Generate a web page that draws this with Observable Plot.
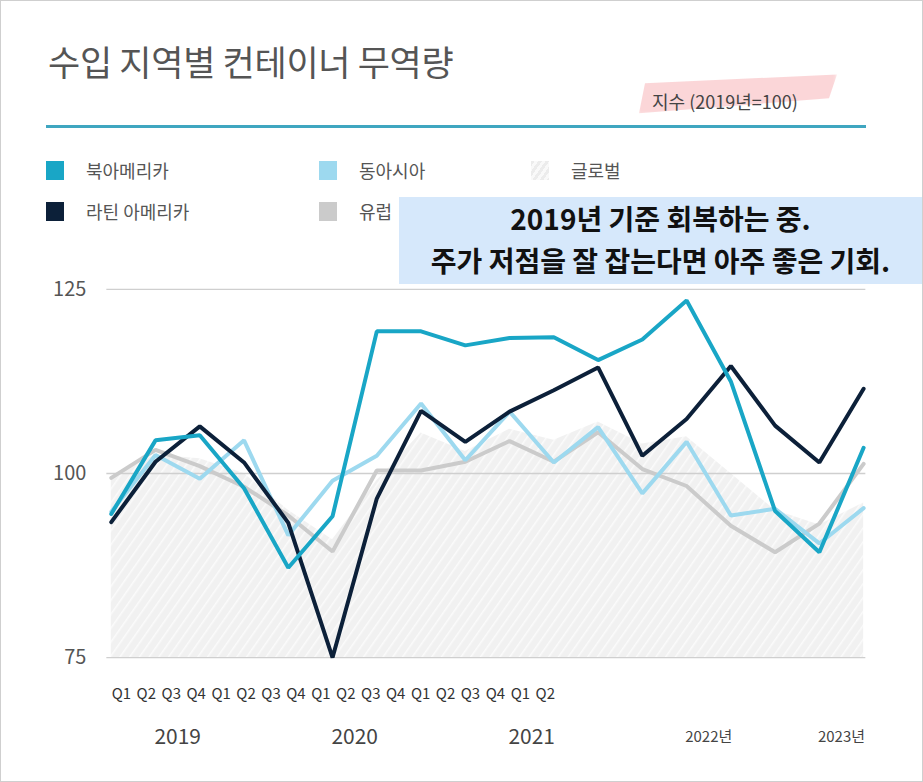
<!DOCTYPE html>
<html><head><meta charset="utf-8">
<script src="https://cdn.jsdelivr.net/npm/d3@7"></script>
<script src="https://cdn.jsdelivr.net/npm/@observablehq/plot@0.6"></script>
<style>
html,body{margin:0;padding:0;background:#fff;}
#page{position:relative;width:923px;height:782px;overflow:hidden;box-sizing:border-box;border:1px solid #cfcfcf;font-family:"Noto Sans CJK KR","Noto Sans",sans-serif;}
.abs{position:absolute;}
#title{left:47px;top:37px;font-size:35px;line-height:46px;color:#555;font-weight:400;letter-spacing:-0.3px;white-space:nowrap;}
#hl{left:636px;top:70px;width:200px;height:44px;background:rgba(250,196,200,0.7);clip-path:polygon(4% 28%,100% 8%,96% 62%,1% 96%);filter:blur(2px);}
#sub{left:651px;top:88px;font-size:18px;line-height:24px;color:#444;white-space:nowrap;}
#rule{left:45px;top:124px;width:820px;height:3px;background:#3fa6c0;}
.lg{position:absolute;font-size:18px;line-height:22px;color:#555;white-space:nowrap;}
.sw{position:absolute;width:18px;height:19px;}
#note{left:398px;top:196px;width:523px;height:87px;background:#d6e8fb;text-align:center;font-weight:700;font-size:28px;line-height:42px;color:#111;white-space:nowrap;}
#main{left:0;top:240px;}
#qaxis{left:0;top:680px;}
</style></head>
<body>
<div id="page">
  <div id="main" class="abs"></div>
  <div id="qaxis" class="abs"></div>
  <div id="title" class="abs">수입 지역별 컨테이너 무역량</div>
  <div id="hl" class="abs"></div>
  <div id="sub" class="abs">지수 (2019년=100)</div>
  <div id="rule" class="abs"></div>
  <div id="legend"></div>
  <div id="note" class="abs">2019년 기준 회복하는 중.<br>주가 저점을 잘 잡는다면 아주 좋은 기회.</div>
</div>
<script>
// ---- data ----
const years = [2019,2019,2019,2019,2020,2020,2020,2020,2021,2021,2021,2021,2022,2022,2022,2022,2023,2023];
const qLabels = ["Q1","Q2","Q3","Q4","Q1","Q2","Q3","Q4","Q1","Q2","Q3","Q4","Q1","Q2","Q3","Q4","Q1","Q2"];
const yearLabels = ["2019","2020","2021","2022년","2023년"];
const yTicks = [75,100,125];
const northAmerica = [94.5,104.5,105.2,98,87.2,94.2,119.3,119.3,117.4,118.4,118.5,115.4,118.2,123.5,112.5,94.9,89.3,103.5];
const latinAmerica = [93.4,101.6,106.4,101.5,93.3,75,96.6,108.5,104.3,108.4,111.3,114.4,102.4,107.4,114.6,106.5,101.5,111.5];
const eastAsia     = [94.8,102.5,99.3,104.5,91.6,99,102.4,109.5,101.8,108.4,101.5,106.3,97.3,104.3,94.3,95.2,90.5,95.3];
const europe       = [99.4,103.2,101,98.2,94.3,89.4,100.4,100.4,101.6,104.4,101.6,105.6,100.6,98.3,92.9,89.3,93.2,101.3];
const globalIdx    = [99.5,102.5,102,100,95,91,99,105.5,103,106,104.5,107,104,105,100,95,93,96];
const seriesNames = ["북아메리카","동아시아","글로벌","라틴 아메리카","유럽"];

// ---- styles ----
const colors = {"북아메리카":"#19a6c6","라틴 아메리카":"#0c2039","동아시아":"#9dd9ef","유럽":"#cbcbcb"};

const idx = years.map((_, i) => i);
const rows = (vals) => vals.map((v, i) => ({i, v}));
const yearPos = d3.rollups(idx, v => d3.mean(v), i => years[i]).map(([y, m], k) => ({label: yearLabels[k], m}));

const main = Plot.plot({
  width: 923, height: 542,
  marginLeft: 110, marginRight: 59, marginTop: 48, marginBottom: 125,
  style: {background: "transparent", fontFamily: "'Noto Sans CJK KR','Noto Sans',sans-serif"},
  x: {domain: [0, 17], axis: null},
  y: {domain: [75, 125], axis: null},
  marks: [
    Plot.areaY(rows(globalIdx), {x: "i", y1: 75, y2: "v", fill: "url(#hatch)", curve: "linear"}),
    Plot.ruleY(yTicks, {stroke: "#cfcfcf", strokeWidth: 1.3, x1: -0.1, x2: 17.05}),
    Plot.axisY({ticks: yTicks, label: null, tickSize: 0, tickPadding: 25, fontSize: 20, fill: "#555", tickFormat: d => String(d)}),
    Plot.lineY(rows(europe), {x: "i", y: "v", stroke: colors["유럽"], strokeWidth: 4, strokeLinejoin: "miter"}),
    Plot.lineY(rows(eastAsia), {x: "i", y: "v", stroke: colors["동아시아"], strokeWidth: 4, strokeLinejoin: "miter"}),
    Plot.lineY(rows(latinAmerica), {x: "i", y: "v", stroke: colors["라틴 아메리카"], strokeWidth: 4, strokeLinejoin: "miter"}),
    Plot.lineY(rows(northAmerica), {x: "i", y: "v", stroke: colors["북아메리카"], strokeWidth: 4, strokeLinejoin: "miter"}),
    Plot.text(yearPos, {x: "m", text: "label", frameAnchor: "bottom", dy: 80, lineAnchor: "middle",
      fontSize: d => d.label.includes("년") ? 15 : 21, fill: "#444"})
  ]
});
main.insertAdjacentHTML("afterbegin",
  `<defs><pattern id="hatch" patternUnits="userSpaceOnUse" width="8" height="8" patternTransform="rotate(35)">
     <rect width="8" height="8" fill="#f1f1f1"/><line x1="0" y1="0" x2="0" y2="8" stroke="#fbfbfb" stroke-width="3"/>
   </pattern></defs>`);
document.getElementById("main").appendChild(main);

const qaxis = Plot.plot({
  width: 923, height: 30, marginLeft: 111.5, marginRight: 370, marginTop: 0, marginBottom: 30,
  style: {background: "transparent", fontFamily: "'Noto Sans CJK KR','Noto Sans',sans-serif"},
  x: {type: "point", domain: idx, padding: 0},
  marks: [Plot.axisX({tickSize: 0, tickPadding: 7, fontSize: 15, fill: "#333", label: null, tickFormat: i => qLabels[i]})]
});
document.getElementById("qaxis").appendChild(qaxis);

// legend
const lpos = [[45,160],[318,160],[530,160],[45,201],[318,201]];
const lg = document.getElementById("legend");
seriesNames.forEach((n, k) => {
  const [x, y] = lpos[k];
  const sw = document.createElement("div");
  sw.className = "sw";
  sw.style.left = x + "px"; sw.style.top = y + "px";
  sw.style.background = n === "글로벌"
    ? "repeating-linear-gradient(125deg,#ececec 0 3px,#f9f9f9 3px 6px)"
    : colors[n];
  lg.appendChild(sw);
  const t = document.createElement("div");
  t.className = "lg";
  t.style.left = (x + 40) + "px"; t.style.top = (y - 2) + "px";
  t.textContent = n;
  lg.appendChild(t);
});
</script>
</body></html>
